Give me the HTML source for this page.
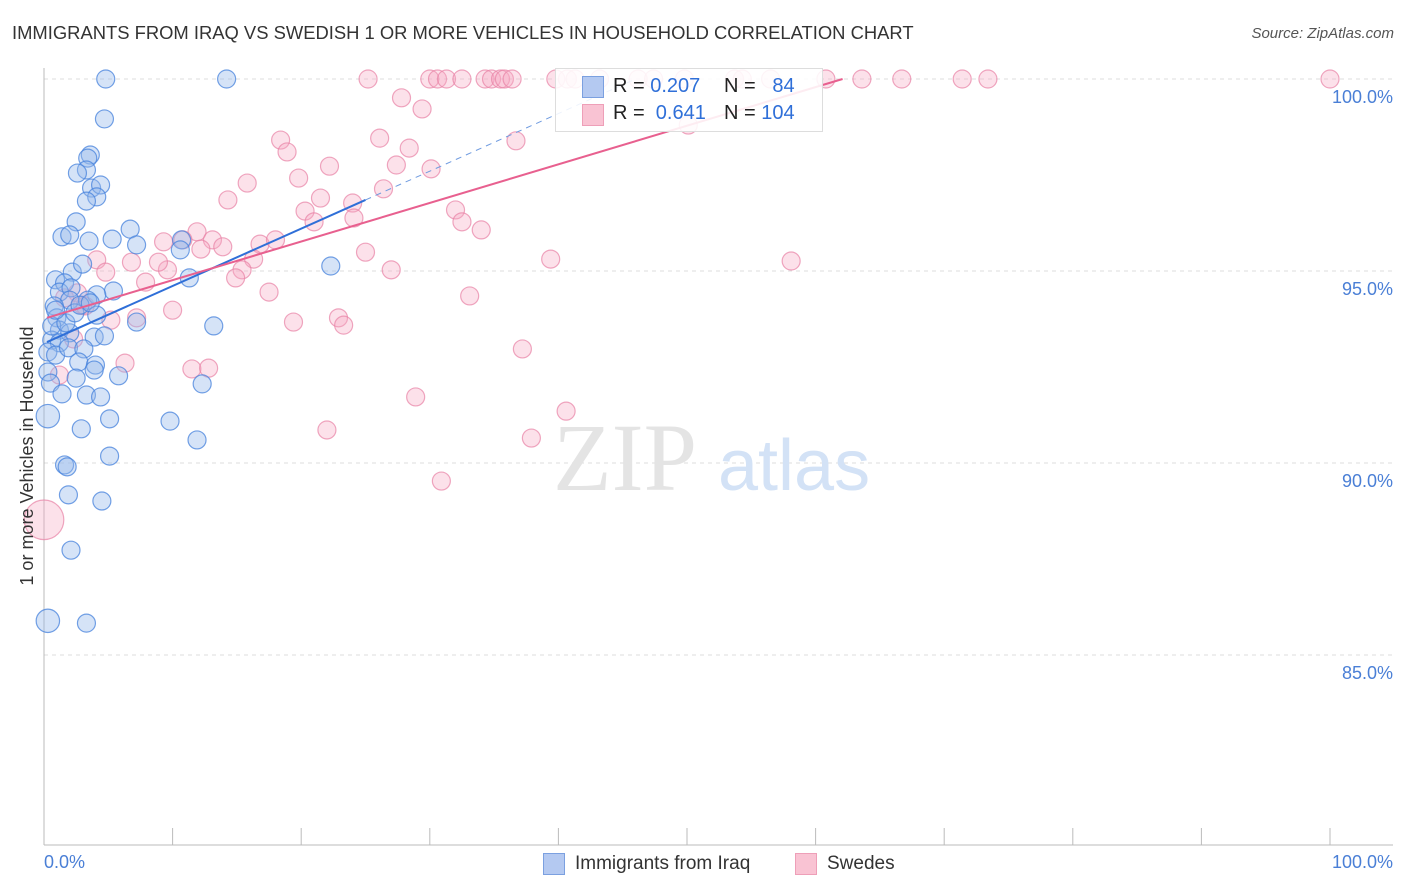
<!DOCTYPE html>
<html><head><meta charset="utf-8"><style>
body{margin:0;background:#fff;font-family:"Liberation Sans",sans-serif;}
#wrap{position:relative;width:1406px;height:892px;overflow:hidden}
.t{position:absolute;white-space:nowrap}
</style></head><body>
<div id="wrap">
<div class="t" style="left:12px;top:22px;font-size:18.4px;color:#333">IMMIGRANTS FROM IRAQ VS SWEDISH 1 OR MORE VEHICLES IN HOUSEHOLD CORRELATION CHART</div>
<div class="t" style="right:12px;top:25px;font-size:15px;color:#555;font-style:italic">Source: ZipAtlas.com</div>
<svg id="svg" width="1406" height="892" style="position:absolute;left:0;top:0"></svg>
</div>
<script>
const blueX=[4.8,14.2,4.7,3.6,3.4,3.3,2.6,3.7,4.4,4.1,3.3,2.5,6.7,1.4,2.0,3.5,5.3,7.2,10.7,10.6,11.3,22.3,0.9,2.2,3.0,1.6,1.2,2.1,2.0,5.4,4.1,3.4,0.8,1.0,4.1,1.2,2.0,3.9,4.7,0.6,1.2,7.2,13.2,0.3,0.9,1.9,3.1,2.7,4.0,3.9,5.8,2.5,0.3,0.5,1.4,3.3,4.4,12.3,0.3,2.9,5.1,9.8,11.9,5.1,1.6,1.8,1.9,4.5,2.1,0.3,3.3,0.6,1.7,2.4,0.9,2.8,3.6];
const blueY=[100,100,98.96,98.02,97.94,97.63,97.55,97.16,97.24,96.93,96.82,96.28,96.09,95.89,95.94,95.78,95.83,95.68,95.81,95.55,94.82,95.13,94.77,94.97,95.18,94.69,94.45,94.56,94.24,94.48,94.38,94.24,94.09,93.78,93.85,93.46,93.39,93.28,93.31,93.2,93.13,93.67,93.57,92.89,92.81,93.0,92.97,92.63,92.55,92.42,92.27,92.21,92.37,92.08,91.8,91.77,91.72,92.06,91.22,90.89,91.15,91.09,90.6,90.18,89.95,89.9,89.17,89.01,87.73,85.89,85.83,93.57,93.65,93.91,93.98,94.11,94.17];
const blueW=blueX.map((x,i)=>(i===58||i===69)?1.3:1);
const pinkX=[25.2,30.0,30.6,31.3,32.5,34.3,34.8,35.5,35.8,36.4,39.8,40.7,41.3,43.2,46.2,47.4,49.8,53.7,54.3,56.5,60.8,63.6,66.7,71.4,73.4,100,27.8,29.4,18.4,18.9,26.1,22.2,28.4,19.8,15.8,27.4,30.1,26.4,36.7,50.1,24.0,21.5,20.3,21.0,32.0,32.5,34.0,24.1,14.3,11.9,13.1,9.3,10.8,9.6,8.9,6.8,4.1,4.8,7.9,13.9,12.2,16.8,18.0,16.3,15.4,14.9,17.5,25.0,27.0,39.4,58.1,33.1,10.0,7.2,5.2,19.4,22.9,23.3,6.3,11.5,12.8,37.2,28.9,22.0,37.9,40.6,30.9,2.6,3.0,1.6,1.2,2.3,3.2,0];
const pinkY=[100,100,100,100,100,100,100,100,100,100,100,100,100,100,100,100,100,100,100,100,100,100,100,100,100,100,99.51,99.22,98.41,98.1,98.46,97.73,98.2,97.42,97.29,97.76,97.66,97.14,98.39,98.8,96.77,96.9,96.56,96.28,96.59,96.28,96.07,96.38,96.85,96.02,95.81,95.76,95.81,95.03,95.23,95.23,95.29,94.97,94.71,95.63,95.57,95.7,95.81,95.31,95.03,94.82,94.45,95.49,95.03,95.31,95.26,94.35,93.98,93.78,93.72,93.67,93.78,93.59,92.6,92.45,92.47,92.97,91.72,90.86,90.65,91.35,89.53,94.43,94.11,94.3,92.29,93.23,94.09,88.52];
const pinkW=pinkX.map((x,i)=>i===pinkX.length-1?2.2:1);
const yTicks=[100,95,90,85];
const yTickLabels=["100.0%","95.0%","90.0%","85.0%"];
const blueTrend=[[0.23,93.15],[25,96.85]];
const blueTrendExt=[[25,96.85],[46,100]];
const pinkTrend=[[0.23,93.78],[62.1,100]];

const NS="http://www.w3.org/2000/svg";
const svg=document.getElementById('svg');
const X=v=>44+v*12.86;
const Y=v=>79+(100-v)*38.4;
function mk(tag,attrs,parent){const e=document.createElementNS(NS,tag);for(const k in attrs)e.setAttribute(k,attrs[k]);(parent||svg).appendChild(e);return e;}
yTicks.forEach((t,i)=>{
  const g=mk('line',{x1:44,x2:1393,y1:Y(t),y2:Y(t),stroke:'#ddd','stroke-dasharray':'4,4'});
  
  
  const tx=mk('text',{x:1393,y:Y(t)+24,'text-anchor':'end','font-size':18,fill:'#4a7fd6','font-family':'Liberation Sans, sans-serif'});
  tx.textContent=yTickLabels[i];
  
  
});
const ax=mk('line',{x1:44,x2:44,y1:68,y2:845,stroke:'#bbb'});


const bx=mk('line',{x1:44,x2:1393,y1:845,y2:845,stroke:'#bbb'});


for(let i=0;i<=10;i++){const tk=mk('line',{x1:X(i*10),x2:X(i*10),y1:828,y2:845,stroke:'#bbb'});

}
const wm=mk('text',{x:553,y:490,'font-size':96,fill:'#e4e4e4','font-family':'Liberation Serif, serif'});wm.textContent='ZIP';


const wm2=mk('text',{x:718,y:490,'font-size':72,fill:'#d3e2f6','font-family':'Liberation Sans, sans-serif'});wm2.textContent='atlas';


pinkX.forEach((x,i)=>{const c=mk('circle',{cx:X(x),cy:Y(pinkY[i]),r:9*pinkW[i],fill:'rgba(246,170,195,0.35)',stroke:'rgba(232,130,165,0.7)','stroke-width':1.2});

});
blueX.forEach((x,i)=>{const c=mk('circle',{cx:X(x),cy:Y(blueY[i]),r:9*blueW[i],fill:'rgba(150,185,235,0.4)',stroke:'rgba(70,130,220,0.75)','stroke-width':1.2});

});
const l1=mk('line',{x1:X(blueTrend[0][0]),y1:Y(blueTrend[0][1]),x2:X(blueTrend[1][0]),y2:Y(blueTrend[1][1]),stroke:'#2f6fd8','stroke-width':2});


const l2=mk('line',{x1:X(blueTrendExt[0][0]),y1:Y(blueTrendExt[0][1]),x2:X(blueTrendExt[1][0]),y2:Y(blueTrendExt[1][1]),stroke:'#6f9be0','stroke-width':1,'stroke-dasharray':'6,5'});


const l3=mk('line',{x1:X(pinkTrend[0][0]),y1:Y(pinkTrend[0][1]),x2:X(pinkTrend[1][0]),y2:Y(pinkTrend[1][1]),stroke:'#e8608f','stroke-width':2});


const yt=mk('text',{x:0,y:0,transform:'translate(33,456) rotate(-90)','text-anchor':'middle','font-size':18,fill:'#333','font-family':'Liberation Sans, sans-serif'});yt.textContent='1 or more Vehicles in Household';


</script>
<div class="t" style="left:44px;top:852px;font-size:18px;color:#4a7fd6">0.0%</div>
<div class="t" style="right:13px;top:852px;font-size:18px;color:#4a7fd6">100.0%</div>
<div style="position:absolute;left:555px;top:68px;width:266px;height:62px;background:rgba(255,255,255,0.88);border:1px solid #ddd;font-size:20px">
 <div style="position:absolute;left:26px;top:7px;width:20px;height:20px;background:#b4c9f1;border:1px solid #7ba0e0"></div>
 <div class="t" style="left:57px;top:6px;color:#222">R = <span style="color:#2f6fd8">0.207</span></div>
 <div class="t" style="left:168px;top:6px;color:#222">N = <span style="color:#2f6fd8">&nbsp;&nbsp;84</span></div>
 <div style="position:absolute;left:26px;top:35px;width:20px;height:20px;background:#f9c3d3;border:1px solid #ee9fb8"></div>
 <div class="t" style="left:57px;top:33px;color:#222">R = <span style="color:#2f6fd8">&nbsp;0.641</span></div>
 <div class="t" style="left:168px;top:33px;color:#222">N = <span style="color:#2f6fd8">104</span></div>
</div>
<div style="position:absolute;left:543px;top:853px;width:20px;height:20px;background:#b4c9f1;border:1px solid #7ba0e0"></div>
<div class="t" style="left:575px;top:853px;font-size:19px;color:#333">Immigrants from Iraq</div>
<div style="position:absolute;left:795px;top:853px;width:20px;height:20px;background:#f9c3d3;border:1px solid #ee9fb8"></div>
<div class="t" style="left:827px;top:853px;font-size:19px;color:#333">Swedes</div>
</body></html>
